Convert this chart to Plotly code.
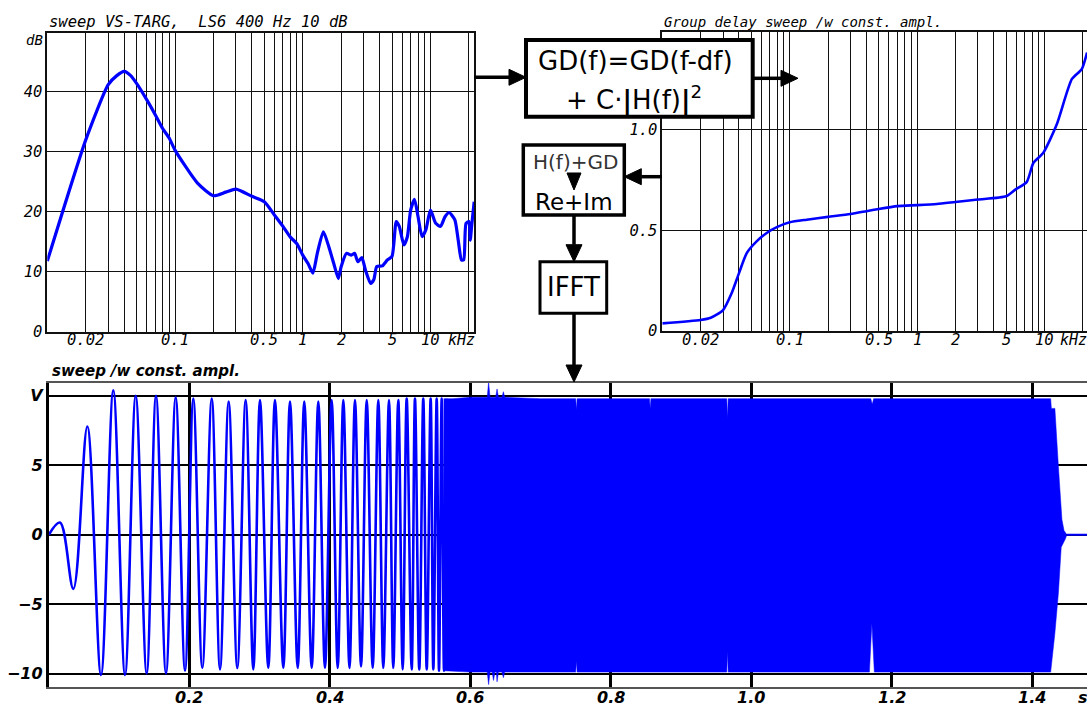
import math
import plotly.graph_objects as go

W, H = 1087, 706

# ---------------- data ----------------
# top-left: magnitude response (kHz, dB)
mag_freq_khz = [0.01, 0.02, 0.03, 0.035, 0.04, 0.045, 0.05, 0.06, 0.07, 0.08, 0.09, 0.1,
                0.15, 0.2, 0.25, 0.3, 0.4, 0.5, 0.6, 0.7, 0.8, 0.9, 1.0, 1.1, 1.2, 1.3,
                1.45, 1.6, 1.75, 1.9, 2.0, 2.2, 2.4, 2.55, 2.7, 2.9, 3.1, 3.4, 3.6, 3.8,
                4.2, 4.6, 5.0, 5.4, 5.7, 6.2, 6.6, 7.0, 7.5, 8.0, 8.6, 9.2, 10, 11, 12,
                13, 14, 15.5, 16.5, 17.5, 18.2, 19, 20, 20.5, 21, 22]
mag_db = [11.8, 32.0, 41.2, 42.7, 43.4, 42.7, 41.4, 38.7, 36.2, 33.9, 32.3, 30.3,
          24.8, 22.7, 23.3, 23.8, 22.6, 21.7, 19.5, 17.6, 15.8, 14.7, 12.8, 11.4, 9.8, 13.1,
          16.7, 14.2, 11.4, 8.9, 10.9, 13.1, 12.8, 13.1, 11.7, 12.4, 10.3, 8.1, 8.7, 10.9,
          11.0, 12.0, 12.6, 18.4, 17.6, 14.5, 15.9, 20.3, 22.1, 19.2, 15.9, 17.0, 20.3, 18.1, 17.6,
          19.2, 19.9, 18.7, 15.3, 12.0, 12.0, 18.1, 18.4, 15.3, 17.6, 21.7]

# top-right: group delay (kHz, s)
gd_freq_khz = [0.01, 0.02, 0.024, 0.03, 0.035, 0.04, 0.046, 0.055, 0.066, 0.08, 0.1, 0.136,
               0.2, 0.3, 0.4, 0.5, 0.7, 1.0, 1.43, 2.0, 3.0, 5.0, 5.9, 7.25, 8.2, 9.8,
               12.5, 16.4, 19.6, 21.6]
gd_sec = [0.038, 0.055, 0.066, 0.104, 0.187, 0.287, 0.386, 0.444, 0.486, 0.516, 0.539, 0.552,
          0.566, 0.580, 0.594, 0.605, 0.619, 0.624, 0.630, 0.640, 0.652, 0.668, 0.701, 0.738, 0.834, 0.884,
          1.025, 1.249, 1.298, 1.381]

# bottom: sweep waveform, extrema of the resolved oscillations (s, V)
sweep_t = [0.0, 0.0159, 0.0349, 0.0548, 0.0743, 0.0918, 0.1085, 0.1237, 0.1393, 0.1526,
           0.1668, 0.1806, 0.1939, 0.2057, 0.2185, 0.2319, 0.2437, 0.2560, 0.2683, 0.2802,
           0.2911, 0.3006, 0.3124, 0.3219, 0.3338, 0.3433, 0.3543, 0.3636, 0.3742, 0.3836,
           0.3931, 0.4026, 0.4112, 0.4192, 0.4280, 0.4358, 0.4444, 0.4525, 0.4610, 0.4690,
           0.4761, 0.4842, 0.4903, 0.4974, 0.5037, 0.5094, 0.5165, 0.5212, 0.5273, 0.5330,
           0.5379, 0.5435, 0.5473, 0.5521, 0.5554, 0.5592, 0.5625, 0.5660]
sweep_v = [0.0, 0.87, -3.9, 7.8, -10.1, 10.4, -10.1, 10.0, -10.0, 10.0,
           -10.0, 9.9, -9.8, 9.8, -9.6, 9.8, -9.7, 9.6, -9.6, 9.7,
           -9.7, 9.7, -9.6, 9.7, -9.6, 9.6, -9.6, 9.6, -9.6, 9.6,
           -9.6, 9.7, -9.6, 9.7, -9.6, 9.7, -9.5, 9.7, -9.6, 9.7,
           -9.6, 9.7, -9.6, 9.7, -9.7, 9.8, -9.7, 9.8, -9.7, 9.8,
           -9.7, 9.8, -9.7, 9.8, -9.8, 9.8, -9.8, 9.8]

# bottom: envelope of the unresolved (dense) part of the sweep (s, V)
dense_top_t = [0.562, 0.575, 0.600, 0.624, 0.626, 0.628, 0.636, 0.638, 0.640, 0.645, 0.647, 0.649,
               0.700, 0.750, 0.751, 0.752, 0.800, 0.855, 0.856, 0.857, 0.900, 0.965, 0.966, 0.967,
               1.000, 1.100, 1.170, 1.172, 1.174, 1.250, 1.350, 1.426, 1.427, 1.432, 1.437, 1.442,
               1.445, 1.449]
dense_top_v = [9.8, 9.8, 9.9, 9.9, 11.0, 9.9, 9.9, 10.5, 9.9, 9.9, 10.3, 9.9,
               9.8, 9.8, 9.0, 9.8, 9.8, 9.8, 9.1, 9.8, 9.8, 9.8, 8.4, 9.8,
               9.8, 9.8, 9.8, 9.4, 9.8, 9.8, 9.8, 9.8, 9.1, 9.1, 4.9, 1.1,
               0.3, 0.0]
dense_bot_t = [0.562, 0.600, 0.624, 0.626, 0.628, 0.631, 0.633, 0.635, 0.637, 0.638, 0.640, 0.645,
               0.647, 0.649, 0.750, 0.751, 0.752, 0.965, 0.966, 0.967, 1.168, 1.1715, 1.175, 1.426,
               1.432, 1.437, 1.441, 1.447, 1.449]
dense_bot_v = [-9.8, -9.9, -9.9, -10.8, -9.9, -9.9, -10.5, -9.9, -9.9, -10.6, -9.9, -9.9,
               -10.3, -9.9, -9.9, -9.1, -9.9, -9.9, -8.4, -9.9, -9.9, -6.4, -9.9, -9.9,
               -7.1, -4.2, -0.9, -0.3, 0.0]
tail_t = [1.449, 1.478]
tail_v = [0.0, 0.0]

# tick definitions
log_grid_khz = [0.02, 0.03, 0.04, 0.05, 0.06, 0.07, 0.08, 0.09,
                0.1, 0.2, 0.3, 0.4, 0.5, 0.6, 0.7, 0.8, 0.9,
                1, 2, 3, 4, 5, 6, 7, 8, 9, 10, 20]
freq_label_vals = [0.02, 0.1, 0.5, 1, 2, 5, 10]
freq_label_text = ["0.02", "0.1", "0.5", "1", "2", "5", "10"]
db_ticks = [0, 10, 20, 30, 40]
gd_ticks = [0, 0.5, 1.0]
gd_tick_text = ["0", "0.5", "1.0"]
time_ticks = [0.2, 0.4, 0.6, 0.8, 1.0, 1.2, 1.4]
time_tick_text = ["0.2", "0.4", "0.6", "0.8", "1.0", "1.2", "1.4"]
volt_ticks = [-10, -5, 0, 5, 10]
volt_tick_text = ["\u221210", "\u22125", "0", "5", "V"]

# ---------------- helpers (pixel -> paper) ----------------
def PX(x):
    return x / W

def PY(y):
    return 1 - y / H

BLUE = "#0000ff"
MONO = "DejaVu Sans Mono"
SANS = "DejaVu Sans"

fig = go.Figure()

fig.add_trace(go.Scatter(x=mag_freq_khz, y=mag_db, mode="lines", xaxis="x", yaxis="y",
                         line=dict(color=BLUE, width=3.2, shape="spline", smoothing=0.6),
                         hoverinfo="skip", showlegend=False))
fig.add_trace(go.Scatter(x=gd_freq_khz, y=gd_sec, mode="lines", xaxis="x2", yaxis="y2",
                         line=dict(color=BLUE, width=2.6, shape="spline", smoothing=0.6),
                         hoverinfo="skip", showlegend=False))
fig.add_trace(go.Scatter(x=dense_top_t + dense_bot_t[::-1], y=dense_top_v + dense_bot_v[::-1],
                         mode="lines", fill="toself", fillcolor=BLUE, xaxis="x3", yaxis="y3",
                         line=dict(color=BLUE, width=0.5), hoverinfo="skip", showlegend=False))
fig.add_trace(go.Scatter(x=sweep_t, y=sweep_v, mode="lines", xaxis="x3", yaxis="y3",
                         line=dict(color=BLUE, width=2.6, shape="spline", smoothing=1.0),
                         hoverinfo="skip", showlegend=False))
fig.add_trace(go.Scatter(x=tail_t, y=tail_v, mode="lines", xaxis="x3", yaxis="y3",
                         line=dict(color=BLUE, width=2), hoverinfo="skip", showlegend=False))

top_tick_font = dict(family=MONO, size=15.5, color="black", style="italic")
bot_tick_font = dict(family=SANS, size=16, color="black", style="italic", weight="bold")

common_log = dict(type="log", tickmode="array", tickvals=log_grid_khz, showticklabels=False,
                  showgrid=True, gridcolor="#111", gridwidth=1, showline=True, linecolor="#111",
                  linewidth=1.5, mirror=True, ticks="", zeroline=False,
                  fixedrange=True, automargin=False)

fig.update_layout(
    width=W, height=H, margin=dict(l=0, r=0, t=0, b=0, autoexpand=False),
    paper_bgcolor="white", plot_bgcolor="white", showlegend=False,
    xaxis=dict(domain=[PX(47.3), PX(474)], range=[-2, 1.341], anchor="y", **common_log),
    yaxis=dict(domain=[PY(332), PY(33)], range=[0, 49.8], anchor="x", tickmode="array",
               tickvals=db_ticks, showgrid=True, gridcolor="#111", gridwidth=1, showline=True,
               linecolor="#111", linewidth=1.5, mirror=True, ticks="", zeroline=False,
               tickfont=top_tick_font, fixedrange=True, automargin=False),
    xaxis2=dict(domain=[PX(662.3), 1.0], range=[-2, 1.334], anchor="y2", **common_log),
    yaxis2=dict(domain=[PY(331), PY(31.7)], range=[0, 1.484], anchor="x2", tickmode="array",
                tickvals=gd_ticks, ticktext=gd_tick_text, showgrid=True, gridcolor="#111",
                gridwidth=1, showline=True, linecolor="#111", linewidth=1.5, mirror=True,
                ticks="", zeroline=False, tickfont=top_tick_font, fixedrange=True,
                automargin=False),
    xaxis3=dict(domain=[PX(48.8), 1.0], range=[0, 1.4777], anchor="y3", tickmode="array",
                tickvals=time_ticks, showticklabels=False, showgrid=True, gridcolor="black",
                gridwidth=3, showline=True, linecolor="#555", linewidth=2, mirror=True,
                ticks="", zeroline=False, fixedrange=True, automargin=False),
    yaxis3=dict(domain=[PY(686.7), PY(382.7)], range=[-10.95, 10.95], anchor="x3",
                tickmode="array", tickvals=volt_ticks, ticktext=volt_tick_text, showgrid=True,
                gridcolor="black", gridwidth=1.5, showline=True, linecolor="black", linewidth=3,
                ticks="", zeroline=False, tickfont=bot_tick_font, fixedrange=True,
                automargin=False),
)

# ---------------- diagram shapes ----------------
shapes = []

def rect(x0, y0, x1, y1, w):
    shapes.append(dict(type="rect", xref="paper", yref="paper", x0=PX(x0), x1=PX(x1),
                       y0=PY(y1), y1=PY(y0), line=dict(color="black", width=w),
                       fillcolor="white", layer="above"))

def seg(x0, y0, x1, y1, w=3.5):
    shapes.append(dict(type="line", xref="paper", yref="paper", x0=PX(x0), x1=PX(x1),
                       y0=PY(y0), y1=PY(y1), line=dict(color="black", width=w), layer="above"))

def tri(pts):
    path = "M " + " L ".join(f"{PX(a):.5f},{PY(b):.5f}" for a, b in pts) + " Z"
    shapes.append(dict(type="path", xref="paper", yref="paper", path=path,
                       fillcolor="black", line=dict(color="black", width=1), layer="above"))

def arrow_h(x0, x1, y, hl=17, hw=8):
    d = 1 if x1 > x0 else -1
    seg(x0, y, x1 - d * hl, y)
    tri([(x1, y), (x1 - d * hl, y - hw), (x1 - d * hl, y + hw)])

def arrow_v(x, y0, y1, hl=17, hw=8):
    seg(x, y0, x, y1 - hl)
    tri([(x, y1), (x - hw, y1 - hl), (x + hw, y1 - hl)])

rect(526, 40, 752.7, 116.7, 4)
rect(523.3, 145, 624.3, 215, 3.5)
rect(540, 261.7, 606.7, 313.3, 3)
arrow_h(474, 526, 77.3)
arrow_h(752.7, 798, 78.3)
arrow_h(662, 624.3, 176.7)
arrow_v(574, 215, 261.7)
arrow_v(574, 313.3, 382)
tri([(567, 173), (581, 173), (574, 190)])

fig.update_layout(shapes=shapes)

# ---------------- text ----------------
ann = []

def text(x, y, s, size, family=SANS, xanchor="center", color="black", style="normal",
         weight="normal"):
    ann.append(dict(x=PX(x), y=PY(y), xref="paper", yref="paper", text=s, showarrow=False,
                    xanchor=xanchor, yanchor="middle",
                    font=dict(family=family, size=size, color=color, style=style, weight=weight)))

# frequency tick labels of both top charts, placed on the log axes
for axref in ("x", "x2"):
    for v, s in zip(freq_label_vals, freq_label_text):
        ann.append(dict(x=math.log10(v), xref=axref, y=PY(340), yref="paper", text=s,
                        showarrow=False, xanchor="center", yanchor="middle",
                        font=dict(family=MONO, size=15.5, color="black", style="italic")))

# time tick labels of the bottom chart
for v, s in zip(time_ticks, time_tick_text):
    ann.append(dict(x=v, xref="x3", y=PY(697), yref="paper", text=s, showarrow=False,
                    xanchor="center", yanchor="middle", font=bot_tick_font))

text(47, 22, "sweep VS-TARG,\u00a0\u00a0LS6 400 Hz 10 dB", 15.5, MONO, "left", style="italic")
text(45, 40, "dB", 14, MONO, "right", style="italic")
text(446, 340, "kHz", 15, MONO, "left", style="italic")
text(662, 22, "Group delay sweep /w const. ampl.", 14, MONO, "left", style="italic")
text(1058, 340, "kHz", 15, MONO, "left", style="italic")
text(50, 371, "sweep /w const. ampl.", 15, SANS, "left", style="italic", weight="bold")
text(1076, 697, "s", 16, SANS, "left", style="italic", weight="bold")

text(635, 61, "GD(f)=GD(f-df)", 26)
text(634, 99, "+ C\u00b7<b>|</b>H(f)<b>|</b><sup>2</sup>", 26)
text(575, 162, "H(f)+GD", 20, color="#333")
text(574, 202, "Re+Im", 23)
text(573.5, 287, "IFFT", 26)

fig.update_layout(annotations=ann)

fig.write_html("out.html")
